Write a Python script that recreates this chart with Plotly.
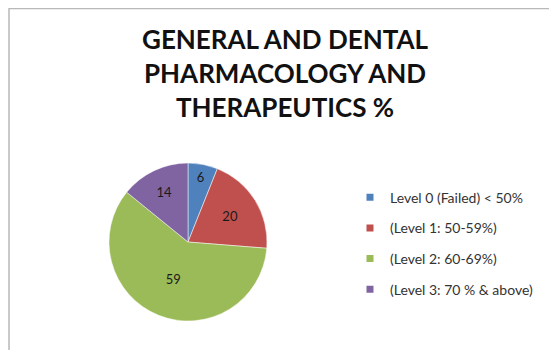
import plotly.graph_objects as go

title_text = "GENERAL AND DENTAL<br>PHARMACOLOGY AND<br>THERAPEUTICS %"
labels = ["Level 0 (Failed) < 50%", "(Level 1: 50-59%)", "(Level 2: 60-69%)", "(Level 3: 70 % & above)"]
values = [6, 20, 59, 14]
colors = ["#4F81BD", "#C0504D", "#9BBB59", "#8064A2"]

W, H = 557, 350
cx, cy, r = 180, 234, 79

fig = go.Figure()
fig.add_trace(go.Pie(
    labels=labels, values=values, sort=False, direction="clockwise", rotation=0,
    marker=dict(colors=colors, line=dict(color="white", width=0.5)),
    textinfo="value", textposition="inside", insidetextorientation="horizontal",
    textfont=dict(family="Lato", size=13, color="#1a1a1a"),
    showlegend=False, hoverinfo="label+value",
    domain=dict(x=[(cx - r) / W, (cx + r) / W], y=[(H - cy - r) / H, (H - cy + r) / H]),
))
for i, (lab, col) in enumerate(zip(labels, colors)):
    fig.add_trace(go.Scatter(
        x=[None], y=[None], mode="markers", name=lab, legendgroup=str(i),
        marker=dict(symbol="square", size=7, color=col),
    ))

fig.update_layout(
    width=W, height=H,
    margin=dict(l=0, r=0, t=0, b=0),
    paper_bgcolor="white", plot_bgcolor="white",
    xaxis=dict(visible=False), yaxis=dict(visible=False),
    annotations=[dict(text=title_text, xref="paper", yref="paper", x=277 / W, y=1 - 13 / H,
                      xanchor="center", yanchor="top", showarrow=False, align="center",
                      font=dict(family="Lato", size=26, color="#111111", weight="bold"))],
    legend=dict(x=0.614, xanchor="left", y=0.504, yanchor="top",
                font=dict(family="Lato", size=14, color="#333333"),
                tracegroupgap=9.5, bgcolor="rgba(0,0,0,0)"),
    shapes=[dict(type="rect", xref="paper", yref="paper",
                 x0=1 / W, y0=-0.1, x1=1.1, y1=(H - 0.5) / H,
                 line=dict(color="#b8b8b8", width=1.5), layer="below")],
)
fig.write_html("out.html")
